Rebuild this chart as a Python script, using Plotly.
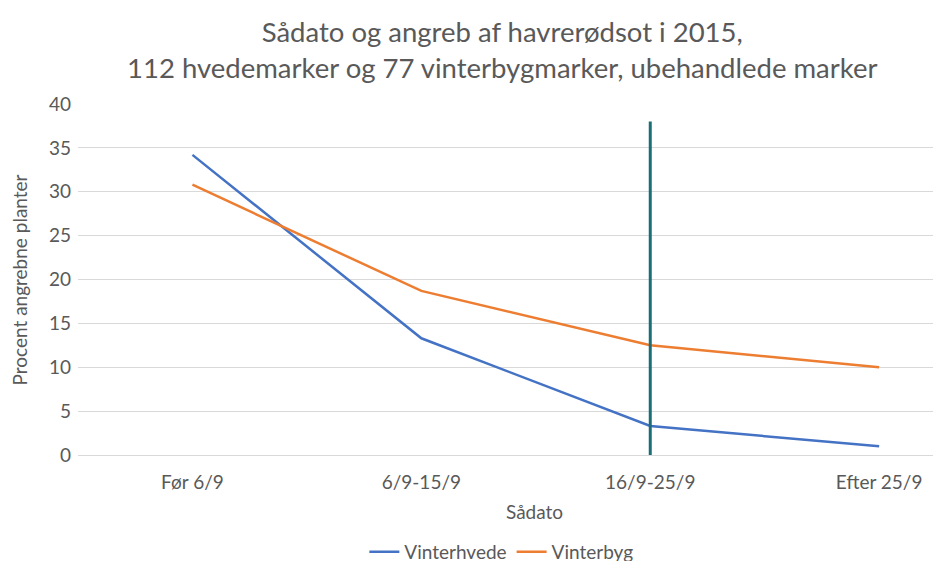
import plotly.graph_objects as go

categories = ["Før 6/9", "6/9-15/9", "16/9-25/9", "Efter 25/9"]
vinterhvede = [34.2, 13.3, 3.3, 1.0]
vinterbyg = [30.8, 18.7, 12.5, 10.0]
marker_category = "16/9-25/9"
marker_span = [0, 38]
y_ticks = [0, 5, 10, 15, 20, 25, 30, 35, 40]

FONT = "Lato, 'Open Sans', sans-serif"
GREY = "#595959"

fig = go.Figure()
fig.add_trace(go.Scatter(x=categories, y=vinterhvede, mode="lines", name="Vinterhvede",
                         line=dict(color="#4472C4", width=2.5)))
fig.add_trace(go.Scatter(x=categories, y=vinterbyg, mode="lines", name="Vinterbyg",
                         line=dict(color="#ED7D31", width=2.5)))
fig.add_trace(go.Scatter(x=[marker_category, marker_category], y=marker_span, mode="lines",
                         showlegend=False, hoverinfo="skip",
                         line=dict(color="#1B6E76", width=3)))

fig.update_layout(
    width=941, height=561,
    margin=dict(l=70, r=14, t=96, b=114, autoexpand=False),
    paper_bgcolor="white", plot_bgcolor="white",
    font=dict(family=FONT, color=GREY, size=19),
    showlegend=True,
    legend=dict(orientation="h", x=0.494, xanchor="center", y=-0.276, yanchor="middle",
                font=dict(size=19, color=GREY), itemwidth=30, traceorder="normal"),
    xaxis=dict(type="category", categoryorder="array", categoryarray=categories,
               range=[-0.5, 3.244], showgrid=False, showline=False, zeroline=False,
               ticks="", ticklabelstandoff=14, tickfont=dict(size=19, color=GREY)),
    yaxis=dict(range=[0, 40], tickvals=y_ticks, showgrid=True, gridcolor="#D9D9D9",
               gridwidth=1, zeroline=True, zerolinecolor="#D9D9D9", zerolinewidth=1,
               showline=False, ticks="", ticklen=0, ticklabelstandoff=6,
               tickfont=dict(size=19, color=GREY)),
    annotations=[
        dict(text="Sådato og angreb af havrerødsot i 2015,<br>112 hvedemarker og 77 vinterbygmarker, ubehandlede marker",
             xref="paper", yref="paper", x=0.495, y=1.154, xanchor="center", yanchor="middle",
             showarrow=False, font=dict(size=27.5, color=GREY, family=FONT)),
        dict(text="Sådato", xref="paper", yref="paper", x=0.533, y=-0.162,
             xanchor="center", yanchor="middle", showarrow=False,
             font=dict(size=19, color=GREY, family=FONT)),
        dict(text="Procent angrebne planter", xref="paper", yref="paper", x=-0.0677, y=0.5,
             xanchor="center", yanchor="middle", textangle=-90, showarrow=False,
             font=dict(size=19, color=GREY, family=FONT)),
    ],
)

fig.write_html("out.html")
